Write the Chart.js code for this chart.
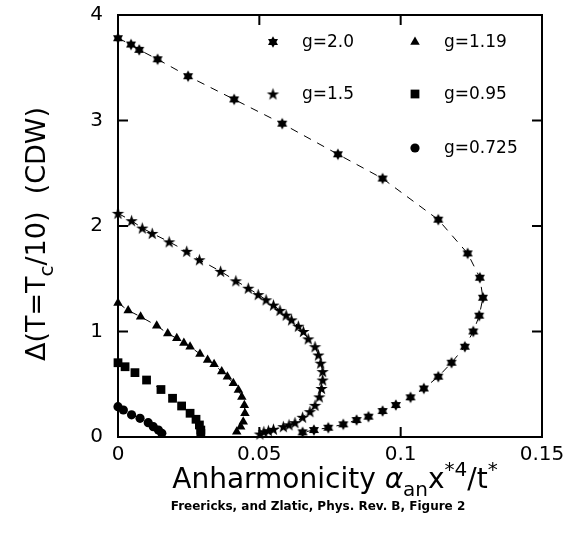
<!DOCTYPE html>
<html>
<head>
<meta charset="utf-8">
<script src="https://cdn.jsdelivr.net/npm/chart.js@4.4.1/dist/chart.umd.min.js"></script>
<style>
html, body { margin: 0; padding: 0; background: #fff; }
</style>
</head>
<body>
<canvas id="chart" width="568" height="539"></canvas>
<script>
// Données (Delta en fonction de l'anharmonicité)
const g20_x = [0, 0.0046, 0.0075, 0.014, 0.0248, 0.0411, 0.0581, 0.0778, 0.0936, 0.1133, 0.1237, 0.128, 0.1291, 0.1278, 0.1257, 0.1227, 0.118, 0.1133, 0.1082, 0.1035, 0.0983, 0.0936, 0.0886, 0.0844, 0.0797, 0.0744, 0.0693, 0.0653];
const g20_y = [3.78, 3.72, 3.67, 3.58, 3.42, 3.20, 2.97, 2.68, 2.45, 2.06, 1.74, 1.51, 1.32, 1.15, 1.00, 0.856, 0.704, 0.572, 0.46, 0.376, 0.303, 0.246, 0.193, 0.161, 0.12, 0.088, 0.066, 0.044];

const g15_x = [0, 0.0048, 0.0086, 0.0121, 0.0181, 0.0243, 0.0288, 0.0363, 0.0417, 0.0461, 0.0496, 0.0524, 0.055, 0.0573, 0.0595, 0.0614, 0.0638, 0.0656, 0.0673, 0.0697, 0.0709, 0.0717, 0.0724, 0.0724, 0.072, 0.0712, 0.0697, 0.0679, 0.0653, 0.0626, 0.0605, 0.0585, 0.055, 0.0532, 0.0516, 0.0502];
const g15_y = [2.12, 2.05, 1.98, 1.93, 1.85, 1.76, 1.68, 1.57, 1.48, 1.41, 1.35, 1.30, 1.25, 1.20, 1.155, 1.11, 1.05, 1.0, 0.93, 0.856, 0.777, 0.70, 0.62, 0.54, 0.46, 0.38, 0.30, 0.24, 0.187, 0.136, 0.115, 0.098, 0.073, 0.06, 0.05, 0.028];

const g119_x = [0, 0.0036, 0.008, 0.0137, 0.0176, 0.0208, 0.0233, 0.0255, 0.029, 0.0317, 0.034, 0.0367, 0.0387, 0.0408, 0.0426, 0.0438, 0.0447, 0.0449, 0.0443, 0.0434, 0.042];
const g119_y = [1.27, 1.20, 1.14, 1.055, 0.98, 0.935, 0.89, 0.856, 0.787, 0.73, 0.69, 0.62, 0.57, 0.51, 0.445, 0.38, 0.30, 0.225, 0.145, 0.098, 0.05];

const g095_x = [0, 0.0025, 0.006, 0.0101, 0.0152, 0.0193, 0.0225, 0.0255, 0.0276, 0.0288, 0.0293, 0.0293];
const g095_y = [0.704, 0.666, 0.61, 0.54, 0.45, 0.367, 0.294, 0.225, 0.168, 0.114, 0.066, 0.035];

const g0725_x = [0, 0.0019, 0.0048, 0.0078, 0.0107, 0.0125, 0.0143, 0.0155];
const g0725_y = [0.287, 0.256, 0.21, 0.177, 0.136, 0.098, 0.066, 0.035];

const X_TICKS = [0, 0.05, 0.1, 0.15];
const X_TICK_LABELS = ['0', '0.05', '0.1', '0.15'];
const Y_TICKS = [0, 1, 2, 3, 4];
const Y_TICK_LABELS = ['0', '1', '2', '3', '4'];

const SERIES_LABELS = ['g=2.0', 'g=1.5', 'g=1.19', 'g=0.95', 'g=0.725'];

const FONT = "'DejaVu Sans', sans-serif";

// Marqueurs personnalisés (étoile à 6 branches et étoile à 5 branches)
function makeHexagram(r) {
    const s = Math.ceil(r * 2) + 2;
    const c = document.createElement('canvas');
    c.width = s; c.height = s;
    const ctx = c.getContext('2d');
    const m = s / 2;
    ctx.fillStyle = '#000';
    [-90, 90].forEach(start => {
        ctx.beginPath();
        for (let i = 0; i < 3; i++) {
            const a = (start + i * 120) * Math.PI / 180;
            const px = m + r * Math.cos(a), py = m + r * Math.sin(a);
            if (i === 0) ctx.moveTo(px, py); else ctx.lineTo(px, py);
        }
        ctx.closePath();
        ctx.fill();
    });
    return c;
}

function makeStar(ro, ri) {
    const s = Math.ceil(ro * 2) + 2;
    const c = document.createElement('canvas');
    c.width = s; c.height = s;
    const ctx = c.getContext('2d');
    const m = s / 2 + 0.5;
    ctx.fillStyle = '#000';
    ctx.beginPath();
    for (let i = 0; i < 10; i++) {
        const r = i % 2 === 0 ? ro : ri;
        const a = (-90 + i * 36) * Math.PI / 180;
        const px = s / 2 + r * Math.cos(a), py = m + r * Math.sin(a);
        if (i === 0) ctx.moveTo(px, py); else ctx.lineTo(px, py);
    }
    ctx.closePath();
    ctx.fill();
    return c;
}

const hexMarker = makeHexagram(5.8);
const starMarker = makeStar(6.5, 2.6);

function toPoints(xs, ys) {
    return xs.map((x, i) => ({x: x, y: ys[i]}));
}

function makeDataset(label, xs, ys, style, radius) {
    return {
        label: label,
        data: toPoints(xs, ys),
        showLine: true,
        borderColor: '#000',
        borderWidth: 1,
        borderDash: [8, 7],
        backgroundColor: '#000',
        pointBackgroundColor: '#000',
        pointBorderWidth: 0,
        pointStyle: style,
        pointRadius: radius,
        pointHoverRadius: radius,
        tension: 0,
        clip: false
    };
}

const datasets = [
    makeDataset(SERIES_LABELS[0], g20_x, g20_y, hexMarker, 5),
    makeDataset(SERIES_LABELS[1], g15_x, g15_y, starMarker, 5),
    makeDataset(SERIES_LABELS[2], g119_x, g119_y, 'triangle', 5.5),
    makeDataset(SERIES_LABELS[3], g095_x, g095_y, 'rect', 6.2),
    makeDataset(SERIES_LABELS[4], g0725_x, g0725_y, 'circle', 4.6)
];

// Dessiner un marqueur (pour la légende)
function drawMarker(ctx, style, x, y, r) {
    ctx.save();
    ctx.fillStyle = '#000';
    if (style instanceof HTMLCanvasElement) {
        ctx.drawImage(style, x - style.width / 2, y - style.height / 2);
    } else if (style === 'circle') {
        ctx.beginPath();
        ctx.arc(x, y, r, 0, Math.PI * 2);
        ctx.fill();
    } else if (style === 'rect') {
        const s = r * Math.SQRT1_2;
        ctx.fillRect(x - s, y - s, 2 * s, 2 * s);
    } else if (style === 'triangle') {
        ctx.beginPath();
        for (let i = 0; i < 3; i++) {
            const a = (-90 + i * 120) * Math.PI / 180;
            const px = x + r * Math.cos(a), py = y + r * Math.sin(a);
            if (i === 0) ctx.moveTo(px, py); else ctx.lineTo(px, py);
        }
        ctx.closePath();
        ctx.fill();
    }
    ctx.restore();
}

// Texte avec indices / exposants
function drawRich(ctx, parts, x, y) {
    let total = 0;
    parts.forEach(p => {
        ctx.font = p.font;
        p.w = ctx.measureText(p.t).width;
        total += p.w;
    });
    let cx = x - total / 2;
    ctx.textAlign = 'left';
    ctx.textBaseline = 'alphabetic';
    parts.forEach(p => {
        ctx.font = p.font;
        ctx.fillText(p.t, cx, y + (p.dy || 0));
        cx += p.w;
    });
}

const framePlugin = {
    id: 'frame',
    beforeDatasetsDraw(chart) {
        const ctx = chart.ctx;
        const ca = chart.chartArea;
        const xs = chart.scales.x, ys = chart.scales.y;
        ctx.save();
        ctx.strokeStyle = '#000';
        ctx.lineWidth = 2;
        ctx.strokeRect(ca.left, ca.top, ca.right - ca.left, ca.bottom - ca.top);
        ctx.beginPath();
        const tl = 10;
        X_TICKS.forEach(v => {
            const px = xs.getPixelForValue(v);
            ctx.moveTo(px, ca.bottom); ctx.lineTo(px, ca.bottom - tl);
            ctx.moveTo(px, ca.top); ctx.lineTo(px, ca.top + tl);
        });
        Y_TICKS.forEach(v => {
            const py = ys.getPixelForValue(v);
            ctx.moveTo(ca.left, py); ctx.lineTo(ca.left + tl, py);
            ctx.moveTo(ca.right, py); ctx.lineTo(ca.right - tl, py);
        });
        ctx.stroke();
        ctx.restore();
    },
    afterDraw(chart) {
        const ctx = chart.ctx;
        const ca = chart.chartArea;
        ctx.save();
        ctx.fillStyle = '#000';

        // Légende en deux colonnes
        const cols = [ca.left + 155, ca.left + 297];
        const rows = [ca.top + 27, ca.top + 79, ca.top + 133];
        const slots = [[0, 0], [0, 1], [1, 0], [1, 1], [1, 2]];
        const radii = [5, 5, 5.5, 6.2, 4.6];
        slots.forEach((s, i) => {
            const mx = cols[s[0]], my = rows[s[1]];
            drawMarker(ctx, datasets[i].pointStyle, mx, my, radii[i]);
            ctx.font = '17px ' + FONT;
            ctx.textAlign = 'left';
            ctx.textBaseline = 'middle';
            ctx.fillText(SERIES_LABELS[i], mx + 29, my + 1);
        });

        // Titre de l'axe X
        drawRich(ctx, [
            {t: 'Anharmonicity ', font: '28px ' + FONT},
            {t: 'α', font: 'italic 28px ' + FONT},
            {t: 'an', font: '20px ' + FONT, dy: 8},
            {t: 'x', font: '28px ' + FONT},
            {t: '*4', font: '20px ' + FONT, dy: -12},
            {t: '/t', font: '28px ' + FONT},
            {t: '*', font: '20px ' + FONT, dy: -12}
        ], 335, 488);

        // Titre de l'axe Y (vertical)
        ctx.save();
        ctx.translate(45, 234);
        ctx.rotate(-Math.PI / 2);
        drawRich(ctx, [
            {t: 'Δ(T=T', font: '27px ' + FONT},
            {t: 'c', font: '20px ' + FONT, dy: 8},
            {t: '/10)  (CDW)', font: '27px ' + FONT}
        ], 0, 0);
        ctx.restore();

        // Légende du bas
        ctx.font = 'bold 12px ' + FONT;
        ctx.textAlign = 'center';
        ctx.textBaseline = 'middle';
        ctx.fillText('Freericks, and Zlatic, Phys. Rev. B, Figure 2', 318, 507);
        ctx.restore();
    }
};

new Chart(document.getElementById('chart').getContext('2d'), {
    type: 'scatter',
    data: { datasets: datasets },
    options: {
        responsive: false,
        animation: false,
        events: [],
        layout: { padding: { top: 15, right: 26, left: 0, bottom: 0 } },
        plugins: {
            legend: { display: false },
            tooltip: { enabled: false }
        },
        scales: {
            x: {
                type: 'linear',
                min: 0,
                max: 0.15,
                afterBuildTicks: s => { s.ticks = X_TICKS.map(v => ({value: v})); },
                afterFit: s => { s.height = 102; s.paddingLeft = 0; s.paddingRight = 0; },
                grid: { display: false, drawTicks: false },
                border: { display: false },
                ticks: {
                    autoSkip: false,
                    maxRotation: 0,
                    padding: 6,
                    color: '#000',
                    font: { family: FONT, size: 20 },
                    callback: (v, i) => X_TICK_LABELS[i]
                }
            },
            y: {
                type: 'linear',
                min: 0,
                max: 4,
                afterBuildTicks: s => { s.ticks = Y_TICKS.map(v => ({value: v})); },
                afterFit: s => { s.width = 118; s.paddingTop = 0; s.paddingBottom = 0; },
                grid: { display: false, drawTicks: false },
                border: { display: false },
                ticks: {
                    autoSkip: false,
                    padding: 15,
                    color: '#000',
                    font: { family: FONT, size: 20 },
                    callback: (v, i) => Y_TICK_LABELS[i]
                }
            }
        }
    },
    plugins: [framePlugin]
});
</script>
</body>
</html>
